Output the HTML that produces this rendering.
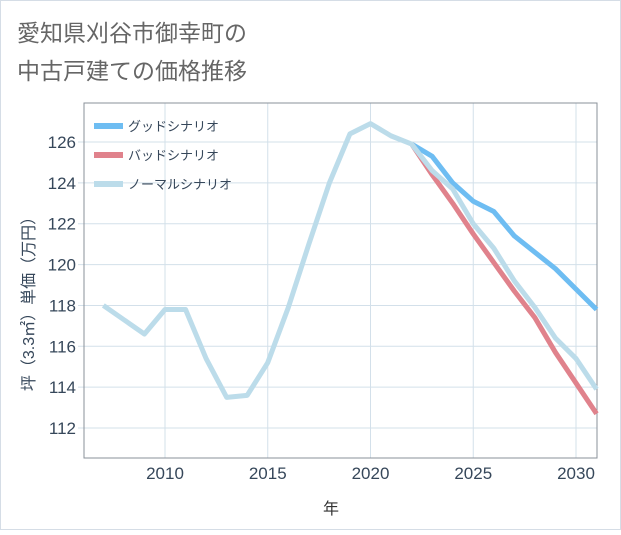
<!DOCTYPE html>
<html><head><meta charset="utf-8"><style>
body{margin:0;background:#fff;font-family:"Liberation Sans","Noto Sans CJK JP",sans-serif}
svg text{font-family:"Liberation Sans","Noto Sans CJK JP",sans-serif}
</style></head><body>
<svg id="c" width="621" height="530">
<rect x="0.5" y="0.5" width="620" height="529" fill="#fff" stroke="#d5dde6"/>
<text x="17" y="41" font-size="23" fill="#666">愛知県刈谷市御幸町の</text>
<text x="17" y="79" font-size="23" fill="#666">中古戸建ての価格推移</text>
<g id="grid"></g>
<rect x="84" y="103" width="513" height="355" fill="none" stroke="#8a9099"/>
<g id="series"></g>
<g id="legend"></g>
<text x="331" y="514" font-size="16" fill="#333" text-anchor="middle">年</text>
<text transform="translate(34,300) rotate(-90)" font-size="16" fill="#36475a" text-anchor="middle">坪（3.3㎡）単価（万円）</text>
</svg>
<script>
const years=[2007,2008,2009,2010,2011,2012,2013,2014,2015,2016,2017,2018,2019,2020,2021,2022,2023,2024,2025,2026,2027,2028,2029,2030,2031];
const normal=[118,117.3,116.6,117.8,117.8,115.4,113.5,113.6,115.2,117.9,121,124,126.4,126.9,126.3,125.9,124.6,123.7,122,120.8,119.2,117.9,116.4,115.4,113.9];
const goodYears=[2022,2023,2024,2025,2026,2027,2028,2029,2030,2031];
const good=[125.9,125.3,124,123.1,122.6,121.4,120.6,119.8,118.8,117.8];
const bad=[125.9,124.4,123,121.5,120.1,118.7,117.4,115.7,114.2,112.7];
const xTicks=[2010,2015,2020,2025,2030];
const yTicks=[112,114,116,118,120,122,124,126];
const legendLabels=["グッドシナリオ","バッドシナリオ","ノーマルシナリオ"];
const NS="http://www.w3.org/2000/svg";
const X=y=>165+(y-2010)*20.55;
const Y=v=>142+(126-v)*20.43;
function mk(t,a,p){const e=document.createElementNS(NS,t);for(const k in a)e.setAttribute(k,a[k]);p.appendChild(e);return e;}
const g=document.getElementById('grid');
xTicks.forEach(t=>{const l=mk('line',{x1:X(t),x2:X(t),y1:103,y2:458,stroke:'#d3e0ea'},g);


const tx=mk('text',{x:X(t),y:479,'font-size':17,fill:'#36475a','text-anchor':'middle'},g);tx.textContent=t;

});
yTicks.forEach(t=>{const l=mk('line',{x1:78,x2:597,y1:Y(t),y2:Y(t),stroke:'#d3e0ea'},g);


const tx=mk('text',{x:76,y:Y(t)+6,'font-size':17,fill:'#36475a','text-anchor':'end'},g);tx.textContent=t;

});
const s=document.getElementById('series');
function line(xs,vs,c,n){const p=mk('polyline',{points:xs.map((y,i)=>X(y)+','+Y(vs[i])).join(' '),fill:'none',stroke:c,'stroke-width':5,'stroke-linejoin':'round'},s);

}
line(goodYears,good,'#6ebdf2','good-scenario-line');
line(goodYears,bad,'#e0828c','bad-scenario-line');
line(years,normal,'#bcdcea','normal-scenario-line');
const lg=document.getElementById('legend');
const cols=['#6ebdf2','#e0828c','#bcdcea'];
legendLabels.forEach((t,i)=>{const y=126+i*29;
const r=mk('rect',{x:94,y:y-3,width:29,height:6,fill:cols[i]},lg);


const tx=mk('text',{x:128,y:y+5,'font-size':13,fill:'#36475a'},lg);tx.textContent=t;

});
</script>
</body></html>
